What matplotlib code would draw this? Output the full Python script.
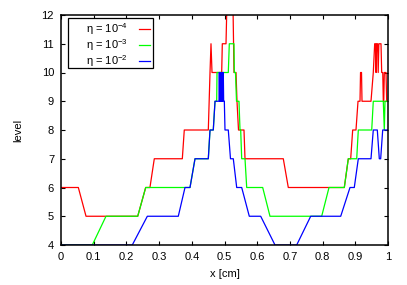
import matplotlib
matplotlib.use("Agg")
import matplotlib.pyplot as plt
from matplotlib.patches import Rectangle

plt.rcParams['font.family'] = ['Liberation Sans', 'DejaVu Sans']
plt.rcParams['mathtext.fontset'] = 'custom'
plt.rcParams['mathtext.rm'] = 'Liberation Sans'
plt.rcParams['mathtext.it'] = 'Liberation Sans:italic'
plt.rcParams['mathtext.default'] = 'regular'

# eta = 1e-4 (red)
red_x = [0, 0.053, 0.0765, 0.2346, 0.259, 0.272, 0.2853, 0.371, 0.377, 0.4505,
         0.4557, 0.4587, 0.4618, 0.4914, 0.4933, 0.5046, 0.5086, 0.5251, 0.529,
         0.5352, 0.5382, 0.5428, 0.5596, 0.5627, 0.6798, 0.6951, 0.8664, 0.8786,
         0.8859, 0.892, 0.9021, 0.9083, 0.9144, 0.916, 0.919, 0.9205, 0.948,
         0.955, 0.9593, 0.962, 0.9635, 0.965, 0.968, 0.970, 0.972, 0.9786,
         0.9807, 0.984, 0.9856, 0.987, 0.9887, 0.9939, 0.996, 1.0]
red_y = [6, 6, 5, 5, 6, 6, 7, 7, 8, 8,
         10, 11, 10, 10, 11, 11, 13, 13, 10,
         10, 9, 8, 8, 7, 7, 6, 6, 7,
         7, 8, 8, 9, 9, 10, 10, 9, 9,
         10, 11, 11, 10, 11, 11, 10, 11, 11,
         10, 10, 9, 9, 10, 10, 9, 9]

# eta = 1e-3 (green)
green_x = [0, 0.0957, 0.1376, 0.2346, 0.259, 0.3792, 0.3945, 0.4098, 0.4505,
           0.4557, 0.4657, 0.471, 0.4761, 0.4771, 0.5116, 0.5147, 0.529, 0.53,
           0.5336, 0.5367, 0.5443, 0.5474, 0.5495, 0.5526, 0.5627, 0.5679,
           0.6168, 0.6391, 0.7972, 0.8196, 0.8664, 0.8786, 0.9043, 0.9092,
           0.9502, 0.955, 0.9856, 0.9887, 0.9908, 1.0]
green_y = [4, 4, 5, 5, 6, 6, 6, 7, 7,
           8, 8, 9, 9, 10, 10, 11, 11, 10,
           10, 9, 9, 8, 8, 7, 7, 6,
           6, 5, 5, 6, 6, 7, 7, 8,
           8, 9, 9, 8, 9, 9]

# eta = 1e-2 (blue)
blue_x = [0, 0.218, 0.264, 0.3587, 0.3792, 0.3945, 0.4098, 0.4505, 0.4557,
          0.4657, 0.471, 0.4832, 0.4842, 0.4852, 0.4862, 0.4872, 0.4882,
          0.4892, 0.4902, 0.4912, 0.4922, 0.4932, 0.4942, 0.4963, 0.4974,
          0.4995, 0.5015, 0.5116, 0.5183, 0.5269, 0.5373, 0.5526, 0.5758,
          0.6107, 0.6544, 0.7208, 0.7636, 0.8554, 0.8838, 0.8969, 0.9092,
          0.948, 0.955, 0.9673, 0.9734, 0.9776, 0.9838, 1.0]
blue_y = [4, 4, 5, 5, 6, 6, 7, 7, 8,
          8, 9, 9, 10, 9, 10, 9, 10,
          9, 10, 9, 10, 9, 10, 10, 9,
          9, 8, 8, 7, 7, 6, 6, 5,
          5, 4, 4, 5, 5, 6, 6, 7,
          7, 8, 8, 7, 7, 8, 8]

labels = ['η = 10$^{-4}$', 'η = 10$^{-3}$', 'η = 10$^{-2}$']
colors = ['#ff0000', '#00ff00', '#0000ff']

x_ticks = [0, 0.1, 0.2, 0.3, 0.4, 0.5, 0.6, 0.7, 0.8, 0.9, 1]
x_tick_labels = ['0', '0.1', '0.2', '0.3', '0.4', '0.5', '0.6', '0.7', '0.8', '0.9', '1']
y_ticks = [4, 5, 6, 7, 8, 9, 10, 11, 12]

fig = plt.figure(figsize=(4.07, 2.85), dpi=100)
ax = fig.add_axes([61/407, 1-245/285, (388-61)/407, (245-15)/285])

for xs, ys, c, lab in zip([red_x, green_x, blue_x], [red_y, green_y, blue_y], colors, labels):
    ax.plot(xs, ys, color=c, lw=0.9, label=lab)

ax.set_xlim(0, 1)
ax.set_ylim(4, 12)
ax.set_xticks(x_ticks)
ax.set_xticklabels(x_tick_labels)
ax.set_yticks(y_ticks)
ax.tick_params(direction='in', top=True, right=True, length=3, width=0.8,
               labelsize=8, pad=5, colors='black')
for s in ax.spines.values():
    s.set_linewidth(1.1)
    s.set_zorder(5)
ax.set_xlabel('x [cm]', fontsize=8, labelpad=5)
ax.set_ylabel('level', fontsize=8, labelpad=13)

# legend frame (gnuplot style key box)
ax.add_patch(Rectangle((0.0214, 0.7696), 0.2599, 0.2174, transform=ax.transAxes,
                       fill=True, facecolor='white', edgecolor='black', lw=0.9, zorder=6))
leg = ax.legend(loc='upper right', bbox_to_anchor=(0.2722, 0.972), markerfirst=False,
                fontsize=8, frameon=False, handlelength=1.0, handletextpad=1.0,
                borderpad=0.0, labelspacing=0.0, borderaxespad=0)
leg.set_zorder(7)

fig.savefig('out.png', dpi=100)
